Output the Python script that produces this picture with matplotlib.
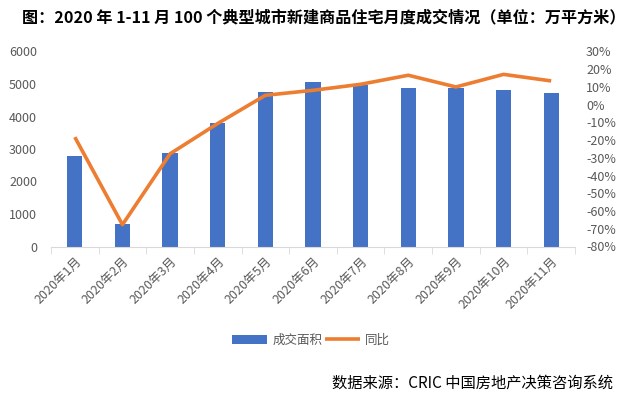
import matplotlib
matplotlib.use("Agg")
import matplotlib.pyplot as plt
import numpy as np

plt.rcParams['font.family'] = ['Noto Sans CJK SC', 'DejaVu Sans']

months = ["2020年1月", "2020年2月", "2020年3月", "2020年4月", "2020年5月", "2020年6月",
          "2020年7月", "2020年8月", "2020年9月", "2020年10月", "2020年11月"]
area = [2780, 690, 2870, 3800, 4740, 5050, 4970, 4890, 4870, 4830, 4710]
yoy = [-18.3, -67.7, -27.7, -10.6, 5.3, 8.1, 11.5, 16.6, 10.0, 17.1, 13.4]

BAR = "#4472C4"
LINE = "#ED7D31"
GRAY = "#595959"

fig = plt.figure(figsize=(6.32, 3.98), dpi=100)
ax = fig.add_axes([51 / 632, 1 - 246.5 / 398, (575 - 51) / 632, (246.5 - 51.5) / 398])
ax2 = ax.twinx()

x = np.arange(len(months))
ax.bar(x, area, width=0.32, color=BAR, label="成交面积", zorder=2)
ax2.plot(x, yoy, color=LINE, lw=2.6, solid_capstyle="butt", label="同比", zorder=3)

ax.set_xlim(-0.5, len(months) - 0.5)
ax.set_ylim(0, 6000)
ax.set_yticks(range(0, 6001, 1000))
ax2.set_ylim(-80, 30)
ax2.set_yticks(range(-80, 31, 10))
ax2.set_yticklabels([f"{v}%" for v in range(-80, 31, 10)])

ax.set_xticks(x)
ax.set_xticklabels(months, rotation=45, ha="right", rotation_mode="anchor")
ax.set_xticks(np.arange(-0.5, len(months)), minor=True)
ax.tick_params(axis="x", which="major", length=0, pad=6, labelsize=9, labelcolor=GRAY)
ax.tick_params(axis="x", which="minor", length=5, color="#D9D9D9")
ax.tick_params(axis="y", length=0, labelsize=9, labelcolor=GRAY, pad=10)
ax2.tick_params(axis="y", length=0, labelsize=9, labelcolor=GRAY, pad=8)

for a in (ax, ax2):
    for s in ("top", "left", "right"):
        a.spines[s].set_visible(False)
ax2.spines["bottom"].set_visible(False)
ax.spines["bottom"].set_color("#D9D9D9")

ax.set_zorder(1)
ax2.set_zorder(2)
ax2.patch.set_visible(False)

h1, l1 = ax.get_legend_handles_labels()
h2, l2 = ax2.get_legend_handles_labels()
fig.legend(h1 + h2, l1 + l2, loc="center", bbox_to_anchor=(311 / 632, 1 - 340 / 398),
           ncol=2, frameon=False, fontsize=9, labelcolor=GRAY, handlelength=2.8,
           handletextpad=0.4, columnspacing=0.2)

fig.text(22 / 632, 1 - 17 / 398, "图：2020 年 1-11 月 100 个典型城市新建商品住宅月度成交情况（单位：万平方米）",
         fontsize=11.6, fontweight="bold", va="center", ha="left")
fig.text(613 / 632, 1 - 383 / 398, "数据来源：CRIC 中国房地产决策咨询系统",
         fontsize=11, va="center", ha="right")

fig.savefig("out.png", dpi=100)
